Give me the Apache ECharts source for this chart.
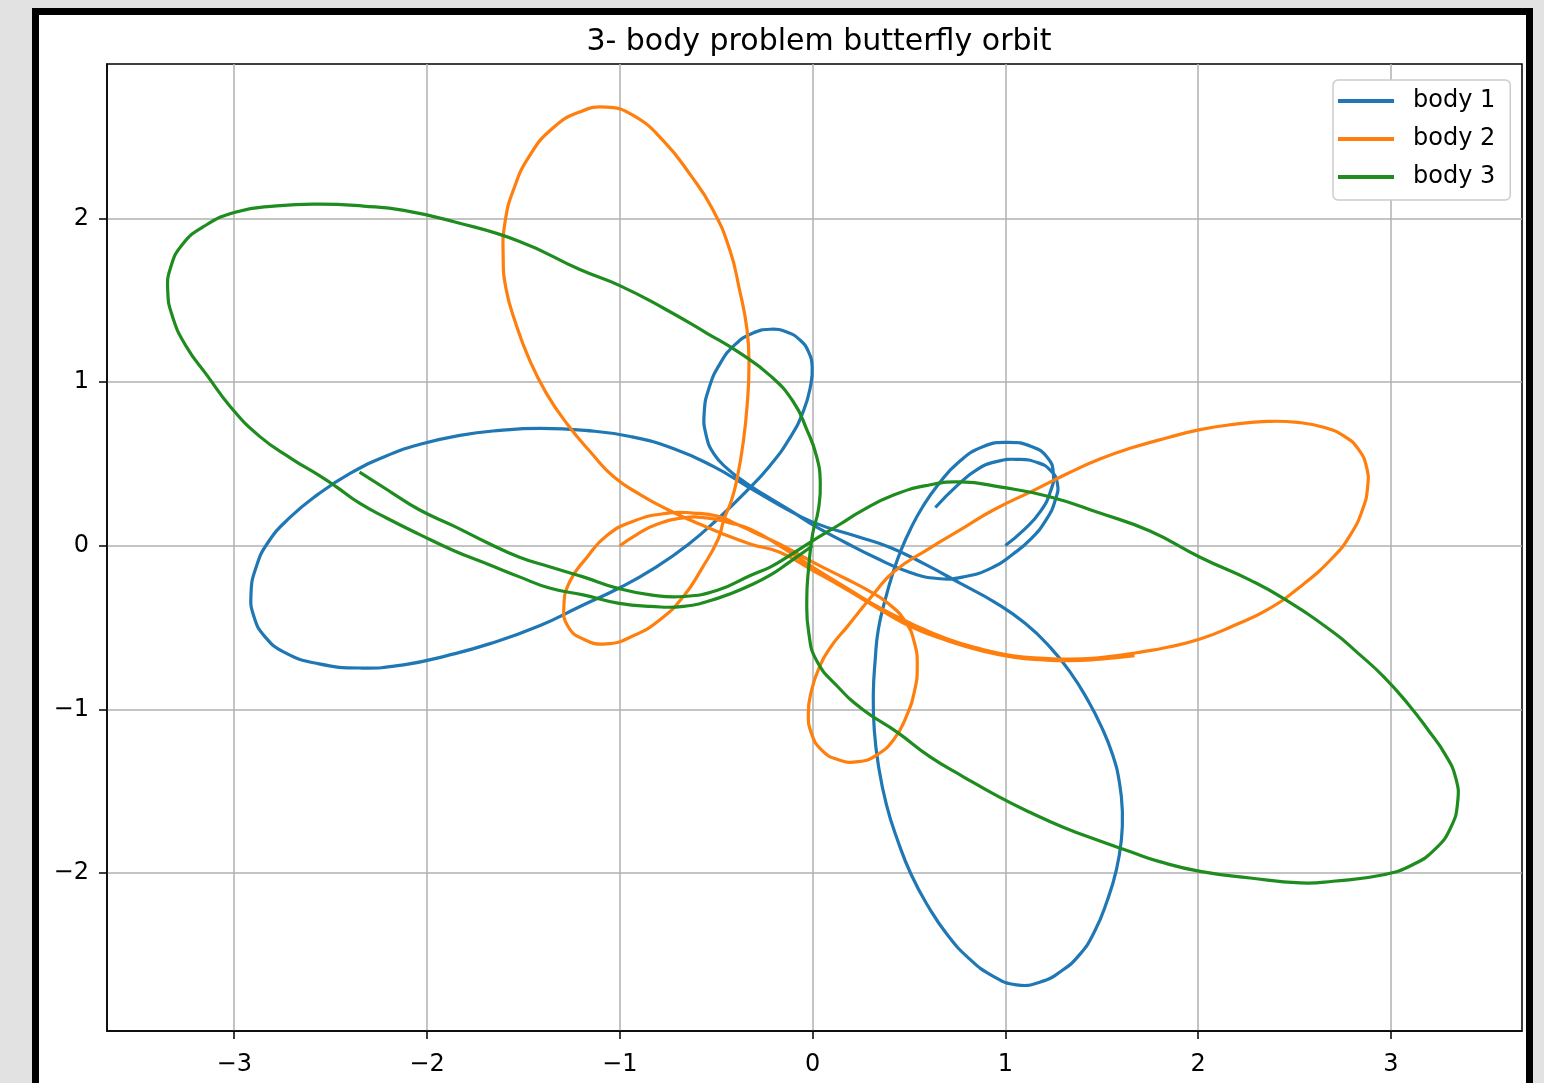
<!DOCTYPE html>
<html><head><meta charset="utf-8">
<script src="https://cdn.jsdelivr.net/npm/echarts@6/dist/echarts.min.js"></script>
<style>
html,body{margin:0;padding:0;width:1544px;height:1083px;overflow:hidden;background:#e2e2e2;}
#frame{position:absolute;left:32px;top:8px;width:1487px;height:1100px;border:7px solid #000;background:#fff;}
#chart{position:absolute;left:0;top:0;width:1544px;height:1083px;}
</style></head><body>
<div id="frame"></div>
<div id="chart"></div>
<script>
const titleText = '3- body problem butterfly orbit';
const seriesNames = ['body 1', 'body 2', 'body 3'];
const xTicks = [-3, -2, -1, 0, 1, 2, 3];
const yTicks = [-2, -1, 0, 1, 2];

const body1 = [[1.000,0.002],[1.099,0.100],[1.182,0.210],[1.234,0.332],[1.249,0.442],[1.218,0.540],[1.135,0.607],[1.016,0.632],[0.886,0.607],[0.756,0.509],[0.652,0.375],[0.569,0.234],[0.507,0.100],[0.460,-0.023],[0.419,-0.157],[0.377,-0.328],[0.341,-0.512],[0.325,-0.695],[0.315,-0.909],[0.320,-1.124],[0.341,-1.338],[0.383,-1.582],[0.440,-1.796],[0.512,-2.010],[0.601,-2.206],[0.699,-2.377],[0.808,-2.518],[0.933,-2.628],[1.057,-2.683],[1.182,-2.665],[1.291,-2.598],[1.384,-2.500],[1.462,-2.359],[1.530,-2.163],[1.576,-1.980],[1.602,-1.796],[1.607,-1.625],[1.592,-1.448],[1.556,-1.276],[1.498,-1.105],[1.426,-0.940],[1.338,-0.775],[1.234,-0.622],[1.104,-0.475],[0.948,-0.347],[0.767,-0.230],[0.585,-0.114],[0.403,-0.010],[0.232,0.057],[0.004,0.143],[-0.168,0.246],[-0.339,0.363],[-0.515,0.485],[-0.723,0.595],[-0.946,0.668],[-1.180,0.705],[-1.413,0.717],[-1.621,0.705],[-1.829,0.675],[-2.036,0.620],[-2.218,0.546],[-2.399,0.442],[-2.566,0.314],[-2.711,0.173],[-2.825,0.020],[-2.887,-0.133],[-2.913,-0.292],[-2.898,-0.432],[-2.841,-0.555],[-2.737,-0.653],[-2.566,-0.720],[-2.337,-0.747],[-2.114,-0.726],[-1.896,-0.671],[-1.673,-0.598],[-1.413,-0.487],[-1.206,-0.371],[-0.998,-0.255],[-0.816,-0.133],[-0.645,0.008],[-0.489,0.167],[-0.349,0.326],[-0.220,0.491],[-0.116,0.662],[-0.048,0.821],[-0.012,0.968],[-0.002,1.091],[-0.022,1.188],[-0.064,1.256],[-0.131,1.305],[-0.220,1.323],[-0.313,1.298],[-0.401,1.231],[-0.479,1.115],[-0.536,0.968],[-0.562,0.815],[-0.552,0.675],[-0.510,0.558],[-0.438,0.467],[-0.349,0.387],[-0.245,0.308],[-0.116,0.216],[0.024,0.112],[0.170,0.020],[0.325,-0.072],[0.492,-0.157],[0.647,-0.200],[0.793,-0.188],[0.933,-0.133],[1.037,-0.053],[1.130,0.039],[1.213,0.161],[1.260,0.283],[1.270,0.381],[1.234,0.461],[1.166,0.509],[1.068,0.528],[0.959,0.516],[0.855,0.467],[0.751,0.369],[0.637,0.234]];

const body2 = [[-1.00,0.00],[-0.91,0.07],[-0.81,0.13],[-0.67,0.17],[-0.55,0.17],[-0.43,0.14],[-0.32,0.10],[-0.17,0.00],[0.00,-0.13],[0.18,-0.26],[0.35,-0.38],[0.52,-0.48],[0.70,-0.57],[0.87,-0.63],[1.04,-0.672],[1.20,-0.688],[1.33,-0.693],[1.47,-0.686],[1.60,-0.668],[1.70,-0.65],[1.84,-0.62],[2.01,-0.57],[2.18,-0.49],[2.36,-0.39],[2.53,-0.25],[2.70,-0.07],[2.791,0.069],[2.853,0.222],[2.879,0.357],[2.874,0.479],[2.832,0.589],[2.760,0.668],[2.651,0.724],[2.516,0.754],[2.360,0.760],[2.184,0.742],[2.01,0.71],[1.84,0.66],[1.66,0.60],[1.49,0.53],[1.32,0.44],[1.15,0.34],[0.94,0.22],[0.77,0.10],[0.60,-0.02],[0.42,-0.16],[0.32,-0.29],[0.180,-0.494],[0.092,-0.622],[0.030,-0.757],[-0.007,-0.891],[-0.022,-1.020],[-0.007,-1.142],[0.045,-1.246],[0.133,-1.307],[0.237,-1.319],[0.336,-1.276],[0.424,-1.179],[0.486,-1.044],[0.528,-0.891],[0.543,-0.738],[0.528,-0.591],[0.481,-0.463],[0.393,-0.353],[0.279,-0.267],[0.170,-0.200],[0.014,-0.108],[-0.17,0.01],[-0.30,0.08],[-0.39,0.13],[-0.49,0.18],[-0.62,0.20],[-0.75,0.20],[-0.93,0.15],[-1.07,0.06],[-1.17,-0.07],[-1.26,-0.22],[-1.29,-0.37],[-1.27,-0.49],[-1.19,-0.57],[-1.07,-0.60],[-0.93,-0.55],[-0.79,-0.45],[-0.67,-0.31],[-0.57,-0.13],[-0.49,0.04],[-0.46,0.16],[-0.42,0.28],[-0.39,0.42],[-0.36,0.63],[-0.34,0.85],[-0.33,1.10],[-0.34,1.32],[-0.38,1.57],[-0.43,1.81],[-0.52,2.06],[-0.63,2.26],[-0.77,2.47],[-0.93,2.63],[-1.07,2.68],[-1.21,2.65],[-1.35,2.55],[-1.47,2.38],[-1.55,2.18],[-1.595,1.98],[-1.605,1.77],[-1.59,1.57],[-1.54,1.36],[-1.47,1.14],[-1.38,0.93],[-1.27,0.74],[-1.15,0.57],[-1.03,0.42],[-0.89,0.31],[-0.75,0.22],[-0.62,0.15],[-0.48,0.08],[-0.32,0.01],[-0.17,-0.04],[0.00,-0.15],[0.18,-0.27],[0.35,-0.39],[0.52,-0.50],[0.70,-0.58],[0.87,-0.64],[1.04,-0.68],[1.20,-0.697],[1.33,-0.702],[1.47,-0.695],[1.60,-0.68],[1.67,-0.672]];

const body3 = [[0.00,0.00],[-0.12,-0.10],[-0.22,-0.18],[-0.32,-0.24],[-0.49,-0.32],[-0.67,-0.37],[-0.84,-0.37],[-1.01,-0.35],[-1.19,-0.30],[-1.36,-0.26],[-1.52,-0.19],[-1.69,-0.11],[-1.86,-0.03],[-2.04,0.07],[-2.21,0.17],[-2.35,0.26],[-2.47,0.36],[-2.56,0.43],[-2.70,0.53],[-2.87,0.67],[-3.02,0.85],[-3.14,1.04],[-3.25,1.22],[-3.32,1.40],[-3.345,1.56],[-3.33,1.70],[-3.27,1.84],[-3.16,1.95],[-2.99,2.04],[-2.78,2.077],[-2.56,2.088],[-2.33,2.076],[-2.12,2.05],[-1.86,1.98],[-1.52,1.86],[-1.21,1.69],[-1.00,1.59],[-0.77,1.45],[-0.55,1.30],[-0.38,1.18],[-0.22,1.04],[-0.10,0.88],[-0.03,0.71],[0.02,0.55],[0.04,0.39],[0.03,0.22],[0.00,0.07],[-0.02,-0.13],[-0.03,-0.33],[-0.02,-0.53],[0.02,-0.70],[0.13,-0.86],[0.26,-1.00],[0.44,-1.14],[0.61,-1.29],[0.78,-1.41],[0.96,-1.53],[1.13,-1.63],[1.30,-1.72],[1.48,-1.80],[1.65,-1.87],[1.80,-1.93],[2.01,-1.99],[2.27,-2.03],[2.53,-2.06],[2.70,-2.05],[2.962,-2.010],[3.113,-1.949],[3.232,-1.851],[3.310,-1.723],[3.346,-1.570],[3.336,-1.417],[3.279,-1.270],[3.196,-1.130],[3.092,-0.971],[2.962,-0.799],[2.832,-0.659],[2.703,-0.530],[2.44,-0.32],[2.27,-0.21],[2.01,-0.07],[1.75,0.09],[1.49,0.20],[1.23,0.30],[0.97,0.36],[0.77,0.39],[0.60,0.37],[0.42,0.31],[0.25,0.21],[0.14,0.13],[0.00,0.03],[-0.12,-0.06],[-0.22,-0.13],[-0.32,-0.18],[-0.49,-0.27],[-0.67,-0.31],[-0.84,-0.30],[-1.01,-0.26],[-1.19,-0.19],[-1.36,-0.13],[-1.52,-0.07],[-1.69,0.02],[-1.86,0.12],[-2.04,0.22],[-2.19,0.33],[-2.35,0.45]];

const colors = ['#1f77b4', '#ff7f0e', '#1f8c1f'];
const FONT = 'DejaVu Sans';
const fmt = v => (v < 0 ? '\u2212' + Math.abs(v) : String(v));

// One smooth polyline per body, mapped through the cartesian axes with api.coord
function orbitSeries(name, pts, color) {
  return {
    name: name, type: 'custom', coordinateSystem: 'cartesian2d',
    data: pts, encode: {x: 0, y: 1},
    itemStyle: {color: color},
    silent: true,
    renderItem: function (params, api) {
      if (params.dataIndex !== 0) return null;
      const coords = pts.map(p => api.coord(p));
      return {
        type: 'polyline',
        shape: {points: coords, smooth: 0.5},
        style: {stroke: color, lineWidth: 3.2, fill: null, lineJoin: 'round', lineCap: 'butt'}
      };
    }
  };
}

const chart = echarts.init(document.getElementById('chart'), null, {renderer: 'canvas'});
const axisCommon = {
  type: 'value',
  minInterval: 1, maxInterval: 1,
  axisLine: {show: true, onZero: false, lineStyle: {color: '#000', width: 1.5}},
  axisTick: {show: true, length: 8, inside: false, lineStyle: {color: '#000', width: 1.5}},
  splitLine: {show: true, lineStyle: {color: '#b0b0b0', width: 1.5}},
  axisLabel: {color: '#000', fontFamily: FONT, fontSize: 24, formatter: fmt}
};
chart.setOption({
  animation: false,
  backgroundColor: 'transparent',
  color: colors,
  title: {
    text: titleText, left: 814, top: 22, textAlign: 'center',
    textStyle: {fontFamily: FONT, fontSize: 30, fontWeight: 'normal', color: '#000'}
  },
  legend: {
    orient: 'vertical', left: 1333, top: 80,
    data: seriesNames.map((n, i) => ({name: n, itemStyle: {color: colors[i]}})),
    icon: 'rect', itemWidth: 56, itemHeight: 4, itemGap: 10,
    padding: [7, 15, 9, 5],
    backgroundColor: '#fff', borderColor: '#cccccc', borderWidth: 1.5, borderRadius: 5,
    textStyle: {fontFamily: FONT, fontSize: 24, color: '#000', lineHeight: 28, padding: [0, 0, 0, 14]}
  },
  grid: {left: 107, top: 64, width: 1415, height: 967, show: true, borderColor: '#000', borderWidth: 1.5, backgroundColor: 'transparent', containLabel: false},
  xAxis: Object.assign({}, axisCommon, {
    min: -3.66, max: 3.68,
    axisTick: Object.assign({}, axisCommon.axisTick, {customValues: xTicks}),
    axisLabel: Object.assign({}, axisCommon.axisLabel, {margin: 22, customValues: xTicks})
  }),
  yAxis: Object.assign({}, axisCommon, {
    min: -2.965, max: 2.944,
    axisTick: Object.assign({}, axisCommon.axisTick, {customValues: yTicks}),
    axisLabel: Object.assign({}, axisCommon.axisLabel, {margin: 18, customValues: yTicks})
  }),
  series: [body1, body2, body3].map((d, i) => orbitSeries(seriesNames[i], d, colors[i]))
});
</script></body></html>
